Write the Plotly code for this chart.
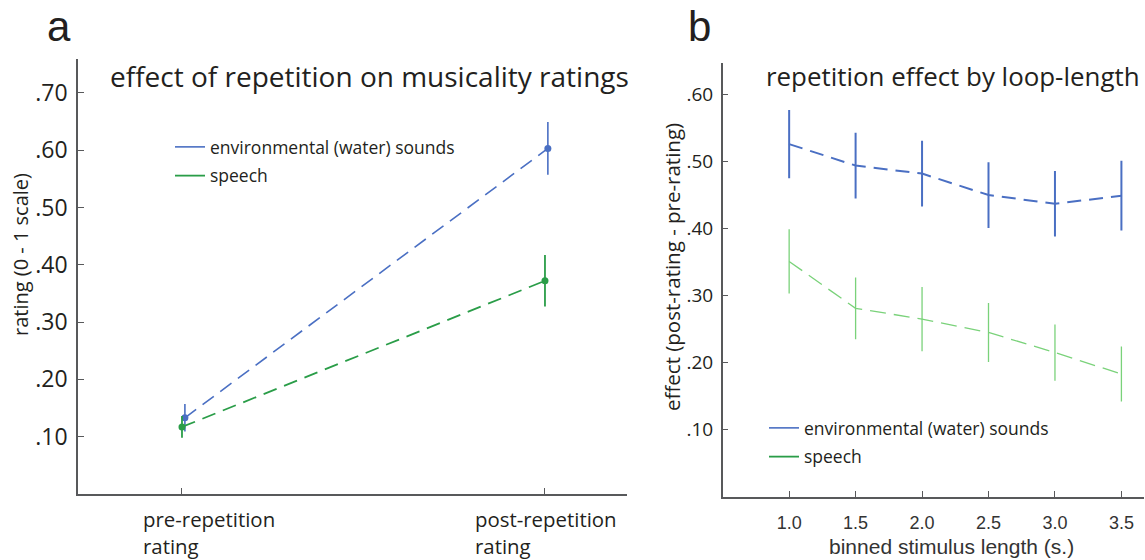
import plotly.graph_objects as go

# ---------------- data ----------------
conditions = ["pre-repetition<br>rating", "post-repetition<br>rating"]
cond_x = [1, 2]
env_rating = [0.133, 0.603]
env_rating_err = [0.024, 0.046]
speech_rating = [0.117, 0.372]
speech_rating_err = [0.019, 0.045]

lengths = [1.0, 1.5, 2.0, 2.5, 3.0, 3.5]
length_ticktext = ["1.0", "1.5", "2.0", "2.5", "3.0", "3.5"]
env_effect = [0.526, 0.494, 0.482, 0.450, 0.437, 0.449]
env_effect_err = [0.051, 0.049, 0.049, 0.049, 0.049, 0.052]
speech_effect = [0.351, 0.281, 0.265, 0.245, 0.215, 0.183]
speech_effect_err = [0.048, 0.046, 0.048, 0.044, 0.042, 0.041]

rating_ticks = [0.1, 0.2, 0.3, 0.4, 0.5, 0.6, 0.7]
rating_ticktext = [".10", ".20", ".30", ".40", ".50", ".60", ".70"]
effect_ticks = [0.1, 0.2, 0.3, 0.4, 0.5, 0.6]
effect_ticktext = [".10", ".20", ".30", ".40", ".50", ".60"]

series_names = ["environmental (water) sounds", "speech"]

# ---------------- style / geometry ----------------
W, H = 1145, 560


def px(x):
    return x / W


def py(y):
    return 1 - y / H


BLUE = "#4a6fc3"
GREEN = "#2a9d48"
LIGHTGREEN = "#7ad27a"
TXT = "#231f20"
AX = "#58595b"
HUM = "'Open Sans', Lato, sans-serif"
ARIAL = "'Liberation Sans', Arial, sans-serif"
env_offset = 0.008

fig = go.Figure()

# panel a
fig.add_trace(go.Scatter(
    x=[v + env_offset for v in cond_x], y=env_rating, mode="lines+markers",
    line=dict(color=BLUE, width=1.6, dash="14px,8px"),
    marker=dict(color=BLUE, size=7),
    error_y=dict(type="data", array=env_rating_err, color=BLUE, thickness=1.6, width=0),
    showlegend=False, xaxis="x", yaxis="y"))
fig.add_trace(go.Scatter(
    x=cond_x, y=speech_rating, mode="lines+markers",
    line=dict(color=GREEN, width=1.8, dash="14px,8px"),
    marker=dict(color=GREEN, size=7),
    error_y=dict(type="data", array=speech_rating_err, color=GREEN, thickness=1.8, width=0),
    showlegend=False, xaxis="x", yaxis="y"))
fig.add_trace(go.Scatter(x=[None], y=[None], mode="lines", name=series_names[0],
                         line=dict(color=BLUE, width=1.6), legend="legend",
                         legendgroup="a_env", xaxis="x", yaxis="y"))
fig.add_trace(go.Scatter(x=[None], y=[None], mode="lines", name=series_names[1],
                         line=dict(color=GREEN, width=1.8), legend="legend",
                         legendgroup="a_sp", xaxis="x", yaxis="y"))

# panel b
fig.add_trace(go.Scatter(
    x=lengths, y=env_effect, mode="lines",
    line=dict(color=BLUE, width=2, dash="14px,8px"),
    error_y=dict(type="data", array=env_effect_err, color=BLUE, thickness=2, width=0),
    showlegend=False, xaxis="x2", yaxis="y2"))
fig.add_trace(go.Scatter(
    x=lengths, y=speech_effect, mode="lines",
    line=dict(color=LIGHTGREEN, width=1.3, dash="16px,8px"),
    error_y=dict(type="data", array=speech_effect_err, color=LIGHTGREEN, thickness=1.3, width=0),
    showlegend=False, xaxis="x2", yaxis="y2"))
fig.add_trace(go.Scatter(x=[None], y=[None], mode="lines", name=series_names[0],
                         line=dict(color=BLUE, width=1.6), legend="legend2",
                         legendgroup="b_env", xaxis="x2", yaxis="y2"))
fig.add_trace(go.Scatter(x=[None], y=[None], mode="lines", name=series_names[1],
                         line=dict(color=GREEN, width=1.8), legend="legend2",
                         legendgroup="b_sp", xaxis="x2", yaxis="y2"))

axis_common = dict(showline=True, linecolor=AX, linewidth=1.5, showgrid=False,
                   zeroline=False, ticks="inside", tickcolor=AX, tickwidth=1.3,
                   ticklen=6, fixedrange=True)

fig.update_layout(
    width=W, height=H, autosize=False,
    margin=dict(l=0, r=0, t=0, b=0),
    paper_bgcolor="white", plot_bgcolor="white",
    font=dict(family=HUM, color=TXT),
    xaxis=dict(domain=[px(78), px(627)], range=[0.7135, 2.226],
               tickvals=cond_x, showticklabels=False, anchor="y", **axis_common),
    yaxis=dict(domain=[py(494), py(59)], range=[0, 0.759],
               tickvals=rating_ticks, ticktext=rating_ticktext,
               tickfont=dict(family=HUM, size=23, color=TXT),
               ticklabelstandoff=4, anchor="x", **axis_common),
    xaxis2=dict(domain=[px(722.7), px(1144)], range=[0.5, 3.67],
                tickvals=lengths, ticktext=length_ticktext,
                tickfont=dict(family=ARIAL, size=18, color="#333333"),
                ticklabelstandoff=9, anchor="y2", **axis_common),
    yaxis2=dict(domain=[py(496.7), py(63)], range=[0, 0.647],
                tickvals=effect_ticks, ticktext=effect_ticktext,
                tickfont=dict(family=HUM, size=19, color=TXT),
                ticklabelstandoff=4, anchor="x2", **axis_common),
    legend=dict(x=px(170), y=py(129), xanchor="left", yanchor="top",
                bgcolor="rgba(0,0,0,0)", borderwidth=0, tracegroupgap=3,
                font=dict(family=HUM, size=17.5, color=TXT)),
    legend2=dict(x=px(764), y=py(410), xanchor="left", yanchor="top",
                 bgcolor="rgba(0,0,0,0)", borderwidth=0, tracegroupgap=3,
                 font=dict(family=HUM, size=17.5, color=TXT)),
)

annots = [
    dict(text="a", x=px(59), y=py(1), yanchor="top", font=dict(family=ARIAL, size=42, color=TXT)),
    dict(text="b", x=px(699), y=py(1), yanchor="top", font=dict(family=ARIAL, size=42, color=TXT)),
    dict(text="effect of repetition on musicality ratings", x=px(369), y=py(76),
         font=dict(family=HUM, size=28, color=TXT)),
    dict(text="repetition effect by loop-length", x=px(953), y=py(76),
         font=dict(family=HUM, size=25.9, color=TXT)),
    dict(text="rating (0 - 1 scale)", x=px(21), y=py(255), textangle=-90,
         font=dict(family=HUM, size=20, color=TXT)),
    dict(text="effect (post-rating - pre-rating)", x=px(672), y=py(267), textangle=-90,
         font=dict(family=HUM, size=20.5, color=TXT)),
    dict(text="binned stimulus length (s.)", x=px(951), y=py(546),
         font=dict(family=ARIAL, size=21, color="#333333")),
    dict(text=conditions[0], x=px(141), y=py(532), xanchor="left", align="left",
         font=dict(family=HUM, size=20.4, color=TXT)),
    dict(text=conditions[1], x=px(473), y=py(532), xanchor="left", align="left",
         font=dict(family=HUM, size=20.4, color=TXT)),
]
for a in annots:
    a.setdefault("xanchor", "center")
    a.setdefault("yanchor", "middle")
    fig.add_annotation(xref="paper", yref="paper", showarrow=False, **a)

fig.write_html("out.html",
               config={"displayModeBar": False},
               post_script="document.body.style.margin='0';document.body.style.overflow='hidden';")
